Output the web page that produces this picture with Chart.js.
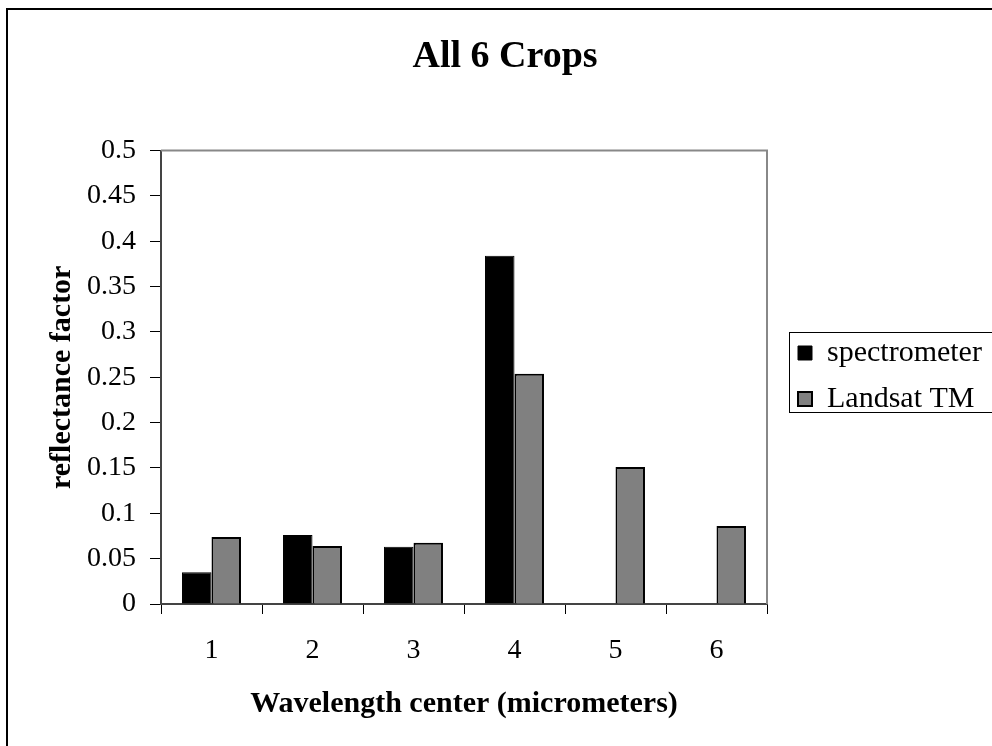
<!DOCTYPE html>
<html>
<head>
<meta charset="utf-8">
<script src="https://cdn.jsdelivr.net/npm/chart.js@4/dist/chart.umd.min.js"></script>
<style>
  body { margin: 0; background: #fff; }
  canvas { display: block; }
</style>
</head>
<body>
<canvas id="myChart" width="992" height="746"></canvas>
<script>
// data
const categories = ['1', '2', '3', '4', '5', '6'];
const spectrometer = [0.035, 0.076, 0.063, 0.384, null, null];
const landsat = [0.074, 0.064, 0.0675, 0.254, 0.151, 0.086];
const yTickLabels = ['0', '0.05', '0.1', '0.15', '0.2', '0.25', '0.3', '0.35', '0.4', '0.45', '0.5'];

const serif = "'Liberation Serif', 'Times New Roman', serif";

// frame lines, legend border, grey top/right plot edge
const extras = {
    id: 'extras',
    beforeLayout(chart) {
        const lg = chart.legend;
        if (lg && !lg._patched) {
            const orig = lg.fit;
            lg.fit = function () { orig.call(this); this.width = 225; };
            lg._patched = true;
        }
    },
    afterLayout(chart) {
        // nudge legend items and title to where the original has them
        chart.legend.left += 15;
        chart.legend.top += 3;
        chart.legend.bottom += 3;
        chart.titleBlock.left += 18;
    },
    afterDraw(chart) {
        const ctx = chart.ctx;
        const a = chart.chartArea;
        ctx.save();
        ctx.strokeStyle = '#888';
        ctx.lineWidth = 2;
        ctx.beginPath();
        ctx.moveTo(a.left, a.top);
        ctx.lineTo(a.right, a.top);
        ctx.lineTo(a.right, a.bottom);
        ctx.stroke();
        // legend box
        ctx.strokeStyle = '#000';
        ctx.lineWidth = 1;
        ctx.strokeRect(789.5, 332.5, 260, 80);
        // outer frame
        ctx.lineWidth = 2;
        ctx.beginPath();
        ctx.moveTo(7, 746);
        ctx.lineTo(7, 9);
        ctx.lineTo(992, 9);
        ctx.stroke();
        ctx.restore();
    }
};

new Chart(document.getElementById('myChart').getContext('2d'), {
    type: 'bar',
    data: {
        labels: categories,
        datasets: [
            {
                label: 'spectrometer',
                data: spectrometer,
                backgroundColor: '#000',
                borderColor: '#000',
                borderWidth: 1
            },
            {
                label: 'Landsat TM',
                data: landsat,
                backgroundColor: '#808080',
                borderColor: '#000',
                borderWidth: 2
            }
        ]
    },
    options: {
        responsive: false,
        animation: false,
        layout: { padding: 0 },
        datasets: {
            bar: { categoryPercentage: 0.584, barPercentage: 1, borderSkipped: 'start' }
        },
        plugins: {
            tooltip: { enabled: false },
            title: {
                display: true,
                text: 'All 6 Crops',
                color: '#000',
                font: { family: serif, size: 38, weight: 'bold' },
                padding: { top: 34, bottom: 71 }
            },
            legend: {
                position: 'right',
                labels: {
                    color: '#000',
                    font: { family: serif, size: 30 },
                    boxWidth: 14,
                    boxHeight: 14,
                    padding: 16
                }
            }
        },
        scales: {
            x: {
                grid: { offset: true, drawOnChartArea: false, tickLength: 10, color: '#000', tickColor: '#000' },
                border: { display: true, color: '#444', width: 2 },
                ticks: { color: '#000', font: { family: serif, size: 28 }, padding: 20 },
                title: {
                    display: true,
                    text: 'Wavelength center (micrometers)',
                    color: '#000',
                    font: { family: serif, size: 30, weight: 'bold' },
                    padding: { top: 0, bottom: 24 }
                },
                afterFit: s => { s.height = 142; }
            },
            y: {
                min: 0,
                max: 0.5,
                ticks: {
                    stepSize: 0.05,
                    color: '#000',
                    font: { family: serif, size: 28 },
                    padding: 14,
                    callback: (v, i) => yTickLabels[i]
                },
                grid: { drawOnChartArea: false, tickLength: 11, color: '#000', tickColor: '#000' },
                border: { display: true, color: '#444', width: 2 },
                title: {
                    display: true,
                    text: 'reflectance factor',
                    color: '#000',
                    font: { family: serif, size: 30, weight: 'bold' },
                    padding: { top: 44, bottom: 0 }
                },
                afterFit: s => { s.width = 161; }
            }
        }
    },
    plugins: [extras]
});
</script>
</body>
</html>
